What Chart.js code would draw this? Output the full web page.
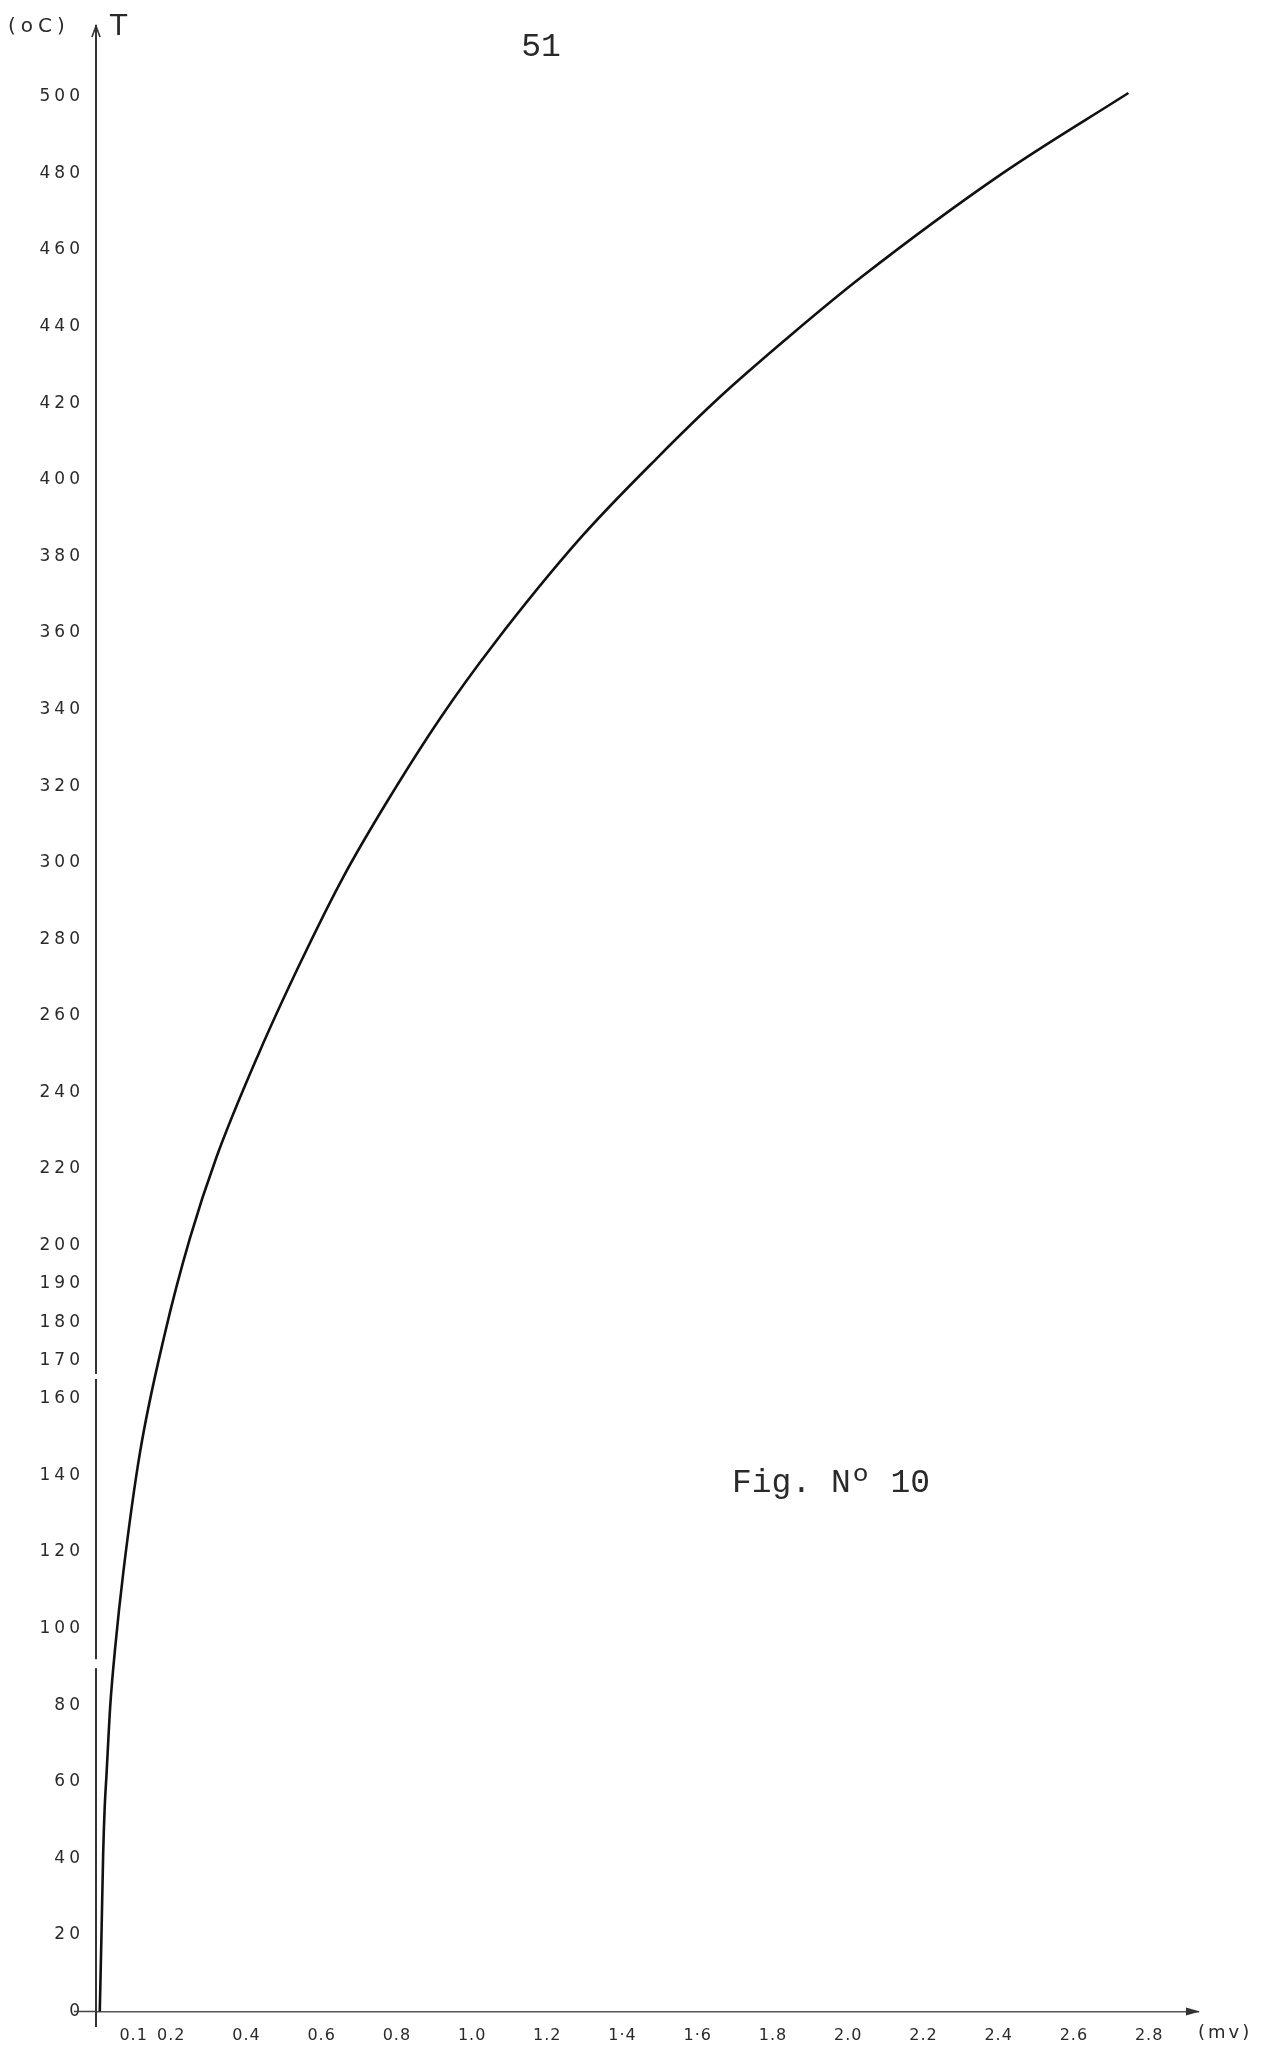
<!DOCTYPE html>
<html>
<head>
<meta charset="utf-8">
<script src="https://cdn.jsdelivr.net/npm/chart.js@4.4.1/dist/chart.umd.min.js"></script>
<style>
html,body{margin:0;padding:0;background:#fff;}
canvas{display:block;}
</style>
</head>
<body>
<canvas id="c" width="1264" height="2049"></canvas>
<script>
// Thermocouple calibration curve: e.m.f. (mV) vs temperature (oC)
const emf = [0.010, 0.015, 0.019, 0.023, 0.028, 0.038, 0.051, 0.073, 0.117, 0.183, 0.250, 0.320, 0.432, 0.544, 0.656, 0.768, 0.917, 1.057, 1.290, 1.495, 1.663, 1.850, 2.036, 2.410, 2.745];
const temperature = [0, 22, 41, 53, 62, 80, 95, 115, 146, 177, 202, 223, 250, 274, 296, 315, 338, 357, 385, 406, 422, 438, 453, 480, 501];

const yTickValues = [0, 20, 40, 60, 80, 100, 120, 140, 160, 170, 180, 190, 200, 220, 240, 260, 280, 300, 320, 340, 360, 380, 400, 420, 440, 460, 480, 500];
const yTickLabels = ['0', '20', '40', '60', '80', '100', '120', '140', '160', '170', '180', '190', '200', '220', '240', '260', '280', '300', '320', '340', '360', '380', '400', '420', '440', '460', '480', '500'];

const xTickValues = [0.1, 0.2, 0.4, 0.6, 0.8, 1.0, 1.2, 1.4, 1.6, 1.8, 2.0, 2.2, 2.4, 2.6, 2.8];
const xTickLabels = ['0.1', '0.2', '0.4', '0.6', '0.8', '1.0', '1.2', '1·4', '1·6', '1.8', '2.0', '2.2', '2.4', '2.6', '2.8'];

const points = emf.map((v, i) => ({x: v, y: temperature[i]}));

function spaceLabels(scale, spacing) {
  if (scale._lsWrapped) return;
  const orig = scale.drawLabels;
  scale.drawLabels = function (area) {
    const c = this.ctx;
    c.save();
    c.letterSpacing = spacing;
    orig.call(this, area);
    c.restore();
  };
  scale._lsWrapped = true;
}

const annot = {
  id: 'annot',
  afterLayout(chart) {
    spaceLabels(chart.scales.y, '4px');
    spaceLabels(chart.scales.x, '1px');
  },
  afterDraw(chart) {
    const {ctx} = chart;
    const xs = chart.scales.x, ys = chart.scales.y;
    const x0 = xs.getPixelForValue(0);
    const y0 = ys.getPixelForValue(0);
    ctx.save();
    ctx.letterSpacing = '0px';
    // small breaks in the hand-drawn vertical axis
    ctx.fillStyle = '#fff';
    ctx.fillRect(x0 - 3, ys.getPixelForValue(166.5), 6, 5);
    ctx.fillRect(x0 - 3, ys.getPixelForValue(92), 6, 9);
    // short stub of the horizontal axis left of the origin
    ctx.strokeStyle = '#444';
    ctx.lineWidth = 1.5;
    ctx.beginPath();
    ctx.moveTo(x0 - 22, y0);
    ctx.lineTo(x0, y0);
    ctx.stroke();
    // arrow heads
    ctx.strokeStyle = '#333';
    ctx.fillStyle = '#333';
    ctx.lineWidth = 1.6;
    ctx.beginPath();
    ctx.moveTo(x0 - 4, ys.top + 11);
    ctx.lineTo(x0, ys.top);
    ctx.lineTo(x0 + 4, ys.top + 11);
    ctx.stroke();
    ctx.beginPath();
    ctx.moveTo(xs.right + 2, y0);
    ctx.lineTo(xs.right - 12, y0 - 4);
    ctx.lineTo(xs.right - 12, y0 + 4);
    ctx.closePath();
    ctx.fill();
    // texts
    ctx.fillStyle = '#2a2a2a';
    ctx.textBaseline = 'middle';
    ctx.textAlign = 'left';
    ctx.letterSpacing = '5px';
    ctx.font = '20px "DejaVu Sans"';
    ctx.fillText('(oC)', 8, 27);
    ctx.letterSpacing = '0px';
    ctx.font = '28px "DejaVu Sans"';
    ctx.fillText('T', 110, 28);
    ctx.letterSpacing = '3px';
    ctx.font = '18px "DejaVu Sans"';
    ctx.fillText('(mv)', 1198, 2033);
    ctx.letterSpacing = '0px';
    ctx.font = '33px "Liberation Mono"';
    ctx.textAlign = 'center';
    ctx.fillText('51', 541, 47);
    ctx.textAlign = 'left';
    ctx.fillText('Fig. Nº 10', 732, 1483);
    ctx.restore();
  }
};

new Chart(document.getElementById('c'), {
  type: 'scatter',
  data: {
    datasets: [{
      data: points,
      showLine: true,
      borderColor: '#111',
      borderWidth: 2.6,
      pointRadius: 0,
      cubicInterpolationMode: 'monotone',
      fill: false
    }]
  },
  options: {
    responsive: false,
    animation: false,
    layout: {padding: {left: 0, right: 66, top: 26, bottom: 18}},
    plugins: {legend: {display: false}, tooltip: {enabled: false}, title: {display: false}},
    scales: {
      x: {
        type: 'linear',
        position: {y: 0},
        min: 0,
        max: 2.93,
        grid: {display: false, drawTicks: false},
        border: {display: true, color: '#555', width: 1.5, dash: [16, 3, 4, 3]},
        afterBuildTicks: (s) => { s.ticks = xTickValues.map(v => ({value: v})); },
        ticks: {
          autoSkip: false,
          maxRotation: 0,
          padding: 15,
          color: '#2a2a2a',
          font: {family: 'DejaVu Sans', size: 16},
          callback: (v) => { const i = xTickValues.findIndex(t => Math.abs(t - v) < 1e-6); return i >= 0 ? xTickLabels[i] : ''; }
        }
      },
      y: {
        type: 'linear',
        position: 'left',
        min: -4,
        max: 518.5,
        afterFit: (s) => { s.width = 96; },
        grid: {display: false, drawTicks: false},
        border: {display: true, color: '#333', width: 2},
        afterBuildTicks: (s) => { s.ticks = yTickValues.map(v => ({value: v})); },
        ticks: {
          autoSkip: false,
          padding: 12,
          color: '#2a2a2a',
          font: {family: 'DejaVu Sans', size: 17},
          callback: (v) => { const i = yTickValues.indexOf(v); return i >= 0 ? yTickLabels[i] : ''; }
        }
      }
    }
  },
  plugins: [annot]
});
</script>
</body>
</html>
